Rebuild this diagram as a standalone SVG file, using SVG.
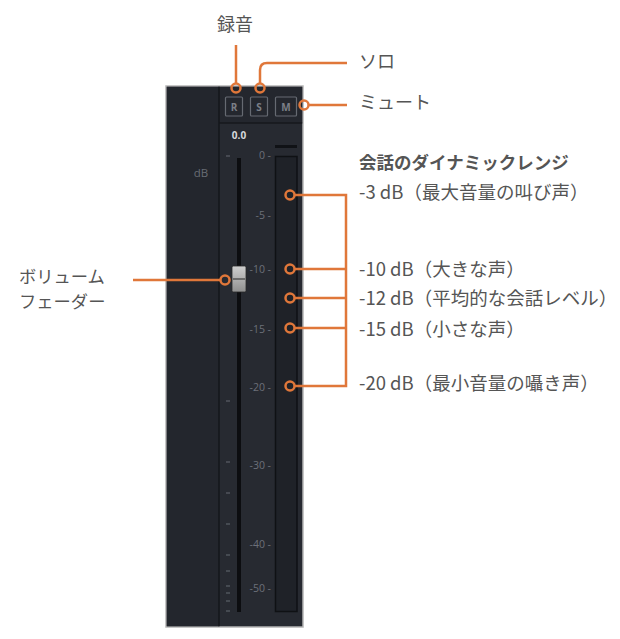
<svg xmlns="http://www.w3.org/2000/svg" width="620" height="639" viewBox="0 0 620 639">
<style>
.lbl{font-family:"Noto Sans CJK JP","Noto Sans",sans-serif;font-size:18px;fill:#555555}
.fdl{font-family:"Noto Sans CJK JP","Noto Sans",sans-serif;font-size:17.3px;fill:#555555}
.dbl{font-family:"Noto Sans CJK JP","Noto Sans",sans-serif;font-size:18.5px;fill:#555555}
.ttl{font-family:"Noto Sans CJK JP","Noto Sans",sans-serif;font-size:17.5px;font-weight:bold;fill:#555555}
.sc{font-family:"Open Sans","Noto Sans",sans-serif;font-size:10.5px;fill:#6c7079;text-anchor:end}
.btn{fill:none;stroke:#666a72;stroke-width:1.2}
.bt{font-family:"Open Sans","Noto Sans",sans-serif;font-size:10px;font-weight:bold;fill:#7b7f87;text-anchor:middle}
.tk{stroke:#5c6068;stroke-width:1.2}
.ol{fill:none;stroke:#e0773a;stroke-width:2.5}
.oc{fill:none;stroke:#e0773a;stroke-width:2.5}
</style>
<rect width="620" height="639" fill="#ffffff"/>
<g id="panel">
<rect x="166" y="86" width="137" height="541" fill="#272a31" stroke="#b5b5b5" stroke-width="1.5"/>
<rect x="166.8" y="86.8" width="52.2" height="539.4" fill="#23262d"/>
<rect x="219" y="86.8" width="83.2" height="36" fill="#24272e"/>
<line x1="219" y1="123" x2="302.2" y2="123" stroke="#17191d" stroke-width="1.5"/>
<line x1="219" y1="86.8" x2="219" y2="626.2" stroke="#15171b" stroke-width="1.5"/>
<text x="201" y="177" font-family="Open Sans,Noto Sans,sans-serif" font-size="11.5" fill="#686c74" text-anchor="middle">dB</text>
<text x="239" y="139" font-family="Open Sans,Noto Sans,sans-serif" font-size="10" font-weight="bold" fill="#d6d8dc" text-anchor="middle">0.0</text>
</g>
<g id="btn-r"><rect class="btn" x="225.5" y="97" width="17" height="19" rx="1"/><text class="bt" x="234" y="110.5">R</text></g>
<g id="btn-s"><rect class="btn" x="250.5" y="97" width="17" height="19" rx="1"/><text class="bt" x="259" y="110.5">S</text></g>
<g id="btn-m"><rect class="btn" x="275.5" y="97" width="21" height="19" rx="1"/><text class="bt" x="286" y="110.5">M</text></g>
<g id="fader-scale">
<line class="tk" x1="226" y1="156" x2="230" y2="156"/>
<line class="tk" x1="226" y1="401" x2="230" y2="401"/>
<line class="tk" x1="226" y1="462" x2="230" y2="462"/>
<line class="tk" x1="226" y1="493" x2="230" y2="493"/>
<line class="tk" x1="226" y1="524" x2="230" y2="524"/>
<line class="tk" x1="226" y1="555" x2="230" y2="555"/>
<line class="tk" x1="226" y1="571" x2="230" y2="571"/>
<line class="tk" x1="226" y1="586" x2="230" y2="586"/>
<line class="tk" x1="226" y1="593" x2="230" y2="593"/>
<line class="tk" x1="226" y1="601" x2="230" y2="601"/>
<line class="tk" x1="226" y1="611" x2="230" y2="611"/>
<rect x="237" y="158" width="4" height="454" fill="#0c0d10"/>
</g>
<g id="db-scale">
<text class="sc" x="271" y="159">0 -</text>
<text class="sc" x="271" y="219">-5 -</text>
<text class="sc" x="271" y="273">-10 -</text>
<text class="sc" x="271" y="333">-15 -</text>
<text class="sc" x="271" y="391">-20 -</text>
<text class="sc" x="271" y="469">-30 -</text>
<text class="sc" x="271" y="548">-40 -</text>
<text class="sc" x="271" y="592">-50 -</text>
</g>
<g id="meter">
<rect x="275" y="145" width="22" height="3" fill="#101216"/>
<rect x="275.5" y="156.5" width="21.5" height="455" fill="#1f2228" stroke="#0f1114" stroke-width="1.5"/>
</g>
<defs>
<linearGradient id="kn" x1="0" y1="0" x2="0" y2="1">
<stop offset="0" stop-color="#cfcfcf"/><stop offset="1" stop-color="#8f8f8f"/>
</linearGradient>
</defs>
<g id="fader-knob">
<rect x="232" y="266" width="14" height="26" rx="1.5" fill="url(#kn)" stroke="#2a2a2a" stroke-width="0.8"/>
<line x1="233" y1="279" x2="245" y2="279" stroke="#555" stroke-width="1.5"/>
</g>
<g id="connectors">
<line class="ol" x1="236" y1="45" x2="236" y2="83.5"/>
<path class="ol" d="M260,83.5 V70 Q260,63 267,63 H347"/>
<line class="ol" x1="308.5" y1="105" x2="347" y2="105"/>
<line class="ol" x1="133" y1="280" x2="220.5" y2="280"/>
<path class="ol" d="M294.5,195 H346 V386 H294.5"/>
<line class="ol" x1="294.5" y1="269" x2="346" y2="269"/>
<line class="ol" x1="294.5" y1="298" x2="346" y2="298"/>
<line class="ol" x1="294.5" y1="328" x2="346" y2="328"/>
<circle class="oc" cx="236" cy="88" r="4.5"/>
<circle class="oc" cx="260" cy="88" r="4.5"/>
<circle class="oc" cx="304" cy="105" r="4.5"/>
<circle class="oc" cx="225" cy="280" r="4.5"/>
<circle class="oc" cx="290" cy="195" r="4.5"/>
<circle class="oc" cx="290" cy="269" r="4.5"/>
<circle class="oc" cx="290" cy="298" r="4.5"/>
<circle class="oc" cx="290" cy="328" r="4.5"/>
<circle class="oc" cx="290" cy="386" r="4.5"/>
</g>
<g id="labels">
<text class="lbl" x="235" y="31" text-anchor="middle">録音</text>
<text class="lbl" x="359" y="68">ソロ</text>
<text class="lbl" x="359" y="109">ミュート</text>
<text class="fdl" x="19" y="283">ボリューム</text>
<text class="fdl" x="19" y="308">フェーダー</text>
<text class="ttl" x="359" y="169">会話のダイナミックレンジ</text>
<text class="dbl" x="359" y="199">-3 dB（最大音量の叫び声）</text>
<text class="dbl" x="359" y="276">-10 dB（大きな声）</text>
<text class="dbl" x="359" y="305">-12 dB（平均的な会話レベル）</text>
<text class="dbl" x="359" y="336">-15 dB（小さな声）</text>
<text class="dbl" x="359" y="390">-20 dB（最小音量の囁き声）</text>
</g>
</svg>
